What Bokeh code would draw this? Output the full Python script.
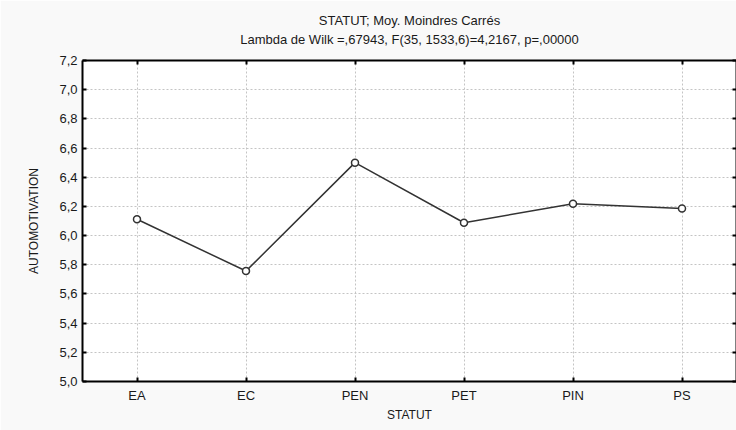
from bokeh.plotting import figure
from bokeh.models import (FactorRange, Range1d, LinearAxis, CategoricalAxis, FixedTicker,
                          CustomJSTickFormatter, Title, ColumnDataSource)
from bokeh.embed import file_html
from bokeh.resources import INLINE

categories = ["EA", "EC", "PEN", "PET", "PIN", "PS"]
means = [6.112, 5.757, 6.500, 6.088, 6.218, 6.185]
y_ticks = [5.0, 5.2, 5.4, 5.6, 5.8, 6.0, 6.2, 6.4, 6.6, 6.8, 7.0, 7.2]
title_main = "STATUT; Moy. Moindres Carrés"
title_sub = "Lambda de Wilk =,67943, F(35, 1533,6)=4,2167, p=,00000"
x_label = "STATUT"
y_label = "AUTOMOTIVATION"

FONT = "Liberation Sans"
BG = "#f9f9f9"

src = ColumnDataSource(data=dict(x=categories, y=means))

p = figure(x_range=FactorRange(*categories, range_padding=0),
           y_range=Range1d(5.0, 7.2),
           width=736, height=430, output_backend="svg", toolbar_location=None,
           x_axis_location=None, y_axis_location=None,
           min_border_left=82, min_border_right=0, min_border_top=60, min_border_bottom=49,
           background_fill_color="white", border_fill_color=BG)
p.title = None
p.outline_line_color = None

fmt = CustomJSTickFormatter(code="return tick.toFixed(1).replace('.', ',');")
blank = CustomJSTickFormatter(code="return '';")

def style(ax, labels=True):
    ax.axis_line_color = "black"
    ax.axis_line_width = 2
    ax.major_tick_in = 4
    ax.major_tick_out = 0
    ax.major_tick_line_color = "black"
    ax.major_tick_line_width = 2
    ax.minor_tick_line_color = None
    ax.minor_tick_in = 0
    ax.minor_tick_out = 0
    ax.major_label_text_font = FONT
    ax.major_label_text_font_size = "13px"
    ax.major_label_text_color = "#1a1a1a"
    ax.axis_label_text_font = FONT
    ax.axis_label_text_font_size = "12px"
    ax.axis_label_text_font_style = "normal"
    ax.axis_label_text_color = "#1a1a1a"
    if not labels:
        ax.major_label_standoff = 0
        ax.axis_label_standoff = 0

left = LinearAxis(ticker=FixedTicker(ticks=y_ticks), formatter=fmt, axis_label=y_label)
style(left)
left.major_label_standoff = 5
left.axis_label_standoff = 15
right = LinearAxis(ticker=FixedTicker(ticks=y_ticks), formatter=blank)
style(right, labels=False)
bottom = CategoricalAxis(axis_label=x_label)
style(bottom)
bottom.major_label_standoff = 6
bottom.axis_label_standoff = 2
top = CategoricalAxis(formatter=blank)
style(top, labels=False)

p.add_layout(left, "left")
p.add_layout(right, "right")
p.add_layout(bottom, "below")
p.add_layout(top, "above")

p.add_layout(Title(text=title_sub, align="center", text_font=FONT, text_font_size="13px",
                   text_font_style="normal", text_color="#1a1a1a", standoff=28), "above")
p.add_layout(Title(text=title_main, align="center", text_font=FONT, text_font_size="13px",
                   text_font_style="normal", text_color="#1a1a1a", standoff=-24), "above")

for g in (p.xgrid, p.ygrid):
    g.grid_line_color = "#c4c4c4"
    g.grid_line_dash = "2 2"
    g.grid_line_width = 1
p.ygrid.ticker = FixedTicker(ticks=y_ticks)
p.xgrid.ticker = bottom.ticker

p.line("x", "y", source=src, line_color="#333333", line_width=1.5)
p.scatter("x", "y", source=src, marker="circle", size=7, fill_color="white",
          line_color="#333333", line_width=1.5)

open("out.html", "w").write(file_html(p, INLINE))
